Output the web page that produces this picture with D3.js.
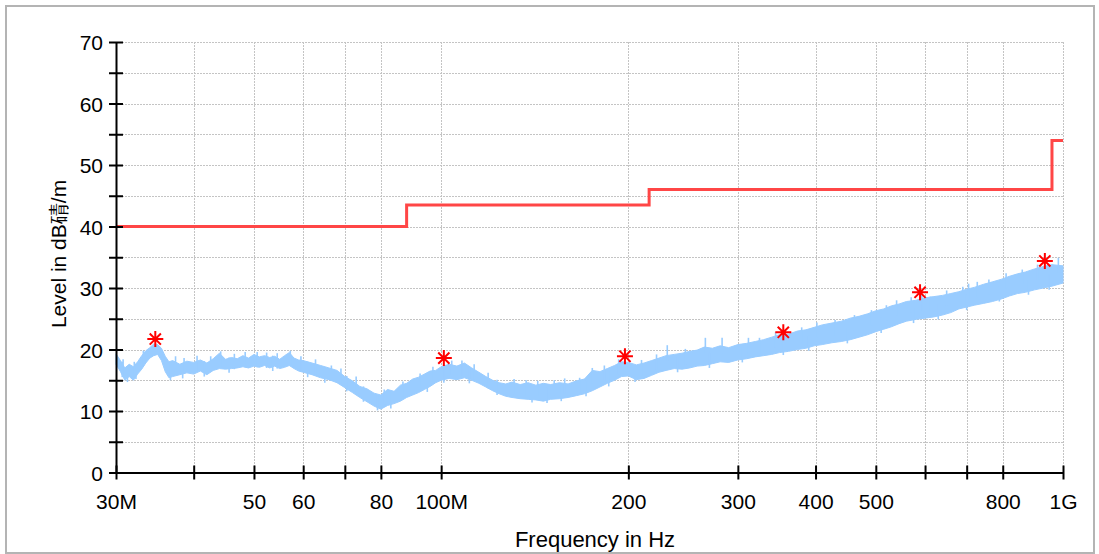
<!DOCTYPE html>
<html>
<head>
<meta charset="UTF-8">
<style>
html, body { margin:0; padding:0; background:#fff; }
svg { display:block; font-family: "Liberation Sans", Arial, sans-serif; }
.grid line { stroke:#c4c4c4; stroke-width:1; stroke-dasharray:2,1; shape-rendering:crispEdges; }
.axis path, .axis line { stroke:#000; stroke-width:2; }
.axis text { font-size:21px; fill:#000; font-family: "Liberation Sans", Arial, sans-serif; }
</style>
</head>
<body>
<svg width="1099" height="554"></svg>
<script src="https://d3js.org/d3.v7.min.js"></script>
<script>
// limit line (dB) per frequency band, MHz
var limitFreq = [30, 88, 88, 216, 216, 960, 960, 1000];
var limitLevel = [40, 40, 43.5, 43.5, 46, 46, 54, 54];

// measured peaks (stars)
var peakFreq = [34.7, 101, 197.5, 355, 589, 935];
var peakLevel = [21.7, 18.6, 18.9, 22.8, 29.3, 34.4];

var traceFreq = [30, 30.5, 31, 31.5, 32, 32.5, 33, 33.5, 34, 34.5, 35, 35.5, 36, 36.5, 37, 38, 39, 40, 41, 42,
  43, 44, 45, 46, 47, 48, 49, 50, 51, 52, 53, 54, 55, 56, 57, 58, 59, 60, 62, 64,
  66, 68, 70, 72, 74, 76, 78, 80, 82, 84, 86, 88, 90, 92, 94, 96, 98, 100, 103, 106,
  109, 112, 115, 118, 121, 124, 127, 130, 134, 138, 142, 146, 150, 155, 160, 165, 170, 175, 180, 185,
  190, 195, 200, 206, 212, 218, 224, 230, 237, 244, 251, 258, 265, 273, 281, 290, 300, 310, 320, 330,
  340, 350, 362, 374, 386, 398, 410, 425, 440, 455, 470, 485, 500, 515, 530, 545, 560, 580, 600, 620,
  640, 660, 680, 700, 720, 745, 770, 795, 820, 845, 870, 900, 930, 960, 1000];
var traceHi = [19.3, 18.2, 17.0, 17.6, 17.2, 18.0, 19.0, 19.8, 20.3, 20.9, 20.8, 20.2, 18.9, 18.0, 18.2, 17.6, 18.1, 17.9, 18.3, 17.8,
  18.5, 19.4, 18.4, 18.7, 18.5, 19.0, 18.6, 19.2, 18.8, 19.0, 18.7, 18.9, 18.4, 19.0, 19.5, 18.6, 18.3, 18.2, 17.8, 17.4,
  17.0, 16.6, 15.6, 14.9, 14.0, 13.6, 12.9, 12.6, 13.5, 13.2, 14.2, 14.5, 15.2, 15.5, 16.0, 16.5, 16.6, 17.2, 17.6, 17.3,
  17.8, 17.0, 16.3, 15.6, 15.0, 14.6, 14.4, 14.7, 14.3, 14.6, 14.2, 14.5, 14.3, 14.6, 14.4, 14.9, 15.2, 16.6, 16.4, 16.9,
  17.4, 18.0, 17.9, 17.5, 17.8, 18.2, 18.6, 19.0, 19.2, 19.4, 19.7, 19.9, 20.4, 20.2, 20.6, 20.3, 20.8, 21.0, 21.3, 21.6,
  22.0, 22.4, 22.5, 23.0, 23.2, 23.6, 24.0, 24.3, 24.6, 25.1, 25.4, 25.8, 26.3, 26.6, 27.1, 27.4, 27.8, 28.0, 28.4, 28.6,
  28.8, 29.1, 29.4, 29.8, 30.1, 30.6, 31.0, 31.4, 31.9, 32.3, 32.6, 33.1, 33.5, 33.8, 33.6];
var traceLo = [17.6, 16.4, 15.0, 15.6, 15.0, 16.0, 16.8, 17.8, 18.6, 19.0, 19.2, 18.2, 16.4, 15.4, 15.6, 15.9, 16.2, 16.0, 16.5, 15.9,
  16.6, 16.9, 16.8, 16.9, 17.0, 17.2, 17.0, 17.3, 17.1, 17.4, 17.0, 17.3, 16.9, 17.1, 17.4, 16.9, 16.5, 16.3, 15.9, 15.4,
  15.1, 14.6, 13.8, 13.0, 12.2, 11.5, 10.8, 10.3, 10.9, 11.2, 11.6, 12.2, 12.6, 13.0, 13.5, 14.0, 14.6, 15.0, 15.3, 15.1,
  15.4, 15.0, 14.5, 13.9, 13.3, 12.8, 12.4, 12.2, 12.0, 11.9, 11.8, 11.6, 11.9, 12.0, 12.2, 12.5, 12.8, 13.3, 13.9, 14.5,
  15.0, 15.6, 15.7, 15.1, 15.3, 15.8, 16.3, 16.6, 16.9, 16.8, 17.0, 17.3, 17.4, 17.7, 18.0, 17.9, 18.3, 18.5, 18.8, 19.0,
  19.2, 19.5, 19.7, 20.0, 20.2, 20.6, 20.8, 21.1, 21.3, 21.6, 22.0, 22.4, 22.9, 23.3, 23.7, 24.2, 24.6, 24.9, 25.1, 25.3,
  25.6, 26.0, 26.6, 26.9, 27.2, 27.5, 27.8, 28.2, 28.7, 29.1, 29.3, 29.7, 30.0, 30.3, 30.8];

// narrow spikes sticking up out of the trace
var upFreq = [30.8, 32.1, 33.2, 37.4, 38.6, 40.5, 42.6, 44.2, 46.5, 48.4, 50.6, 52.4, 54.5, 57.2, 59.5, 62.8, 66.6, 69, 73, 81,
  86.8, 92.5, 97, 104, 108, 113, 119, 131, 137, 143, 152, 158, 167, 175, 183, 193, 210, 222, 231, 247,
  266, 283, 312, 325, 345, 380, 402, 430, 462, 492, 520, 540, 570, 593, 612, 650, 690, 705, 728, 760,
  810, 860, 910, 983];
var upLevel = [18.4, 18.0, 19.8, 18.9, 18.6, 19.0, 18.9, 19.7, 19.3, 19.6, 19.6, 19.5, 19.4, 19.8, 18.9, 18.4, 17.4, 16.9, 15.6, 13.5,
  14.8, 16.1, 17.2, 18.2, 18.2, 17.6, 16.2, 15.2, 15.0, 14.9, 15.0, 15.3, 15.4, 17.0, 17.4, 18.4, 18.3, 19.2, 20.7, 20.1,
  21.9, 21.9, 21.9, 21.9, 22.8, 23.6, 24.4, 24.8, 25.6, 26.4, 27.2, 28.0, 28.5, 28.9, 28.6, 29.6, 30.2, 30.7, 31.0, 31.4,
  32.4, 33.0, 33.8, 34.9];

// narrow dips below the trace
var downFreq = [30.7, 31.3, 32.3, 36.7, 38.4, 41.6, 45.6, 53.6, 61, 65, 70.5, 75, 79, 83, 95, 101, 111, 123, 140, 148,
  156, 171, 186, 205, 240, 270, 305, 355, 390, 450, 510, 575, 630, 700, 790, 880, 950];
var downLevel = [15.5, 14.7, 15.2, 15.0, 15.3, 15.6, 16.2, 16.5, 15.5, 14.6, 13.2, 11.5, 10.1, 10.4, 13.1, 14.6, 14.5, 12.6, 11.4, 11.3,
  11.6, 12.4, 14.0, 14.7, 16.3, 17.0, 17.9, 19.1, 19.8, 21.0, 22.7, 24.3, 24.9, 26.4, 27.8, 28.9, 29.7];

var xTicks = [30, 40, 50, 60, 70, 80, 100, 200, 300, 400, 500, 600, 700, 800, 1000];
var xTickLabels = {30: "30M", 50: "50", 60: "60", 80: "80", 100: "100M", 200: "200", 300: "300", 400: "400", 500: "500", 800: "800", 1000: "1G"};
var yTicks = [0, 5, 10, 15, 20, 25, 30, 35, 40, 45, 50, 55, 60, 65, 70];

var svg = d3.select("svg");

var x = d3.scaleLog().domain([30, 1000]).range([116, 1063]);
var y = d3.scaleLinear().domain([0, 70]).range([472.5, 42]);

// grid
var grid = svg.append("g").attr("class", "grid");
grid.selectAll("line.h").data(yTicks.slice(1)).enter().append("line")
  .attr("x1", x(30)).attr("x2", x(1000))
  .attr("y1", function(d) { return Math.round(y(d)) + 0.5; })
  .attr("y2", function(d) { return Math.round(y(d)) + 0.5; });
grid.selectAll("line.v").data(xTicks.slice(1)).enter().append("line")
  .attr("y1", y(70)).attr("y2", y(0))
  .attr("x1", function(d) { return Math.round(x(d)) + 0.5; })
  .attr("x2", function(d) { return Math.round(x(d)) + 0.5; });

// trace
var traceColor = "#99ccff";
var trace = traceFreq.map(function(f, i) { return {f: f, hi: traceHi[i], lo: traceLo[i]}; });
var area = d3.area()
  .x(function(d) { return x(d.f); })
  .y0(function(d) { return y(d.lo); })
  .y1(function(d) { return y(d.hi); });
svg.append("path").datum(trace)
  .attr("d", area)
  .attr("fill", traceColor)
  .attr("stroke", traceColor)
  .attr("stroke-width", 1);

var spikes = svg.append("g").attr("stroke", traceColor).attr("stroke-width", 1.6);
spikes.selectAll("line.up").data(upFreq).enter().append("line")
  .attr("x1", function(d) { return x(d); })
  .attr("x2", function(d) { return x(d); })
  .attr("y1", function(d, i) { return y(upLevel[i]); })
  .attr("y2", function(d, i) { return y(upLevel[i] - 2.5); });
spikes.selectAll("line.down").data(downFreq).enter().append("line")
  .attr("x1", function(d) { return x(d); })
  .attr("x2", function(d) { return x(d); })
  .attr("y1", function(d, i) { return y(downLevel[i]); })
  .attr("y2", function(d, i) { return y(downLevel[i] + 2.5); });

// limit
var lim = limitFreq.map(function(f, i) { return [f, limitLevel[i]]; });
svg.append("path").datum(lim)
  .attr("d", d3.line().x(function(d) { return x(d[0]); }).y(function(d) { return y(d[1]); }))
  .attr("fill", "none")
  .attr("stroke", "#ff4646")
  .attr("stroke-width", 3);

// peak markers
var star = svg.append("g").selectAll("g").data(peakFreq).enter().append("g")
  .attr("transform", function(d, i) { return "translate(" + x(d) + "," + y(peakLevel[i]) + ")"; });
star.append("path")
  .attr("d", "M0,-8V8M-8,0H8M-5.6,-5.6L5.6,5.6M-5.6,5.6L5.6,-5.6")
  .attr("stroke", "#ff0000")
  .attr("stroke-width", 2)
  .attr("fill", "none");

// axes
var yAxis = svg.append("g").attr("class", "axis")
  .attr("transform", "translate(" + x(30) + ",0)")
  .call(d3.axisLeft(y).tickValues(yTicks).tickSize(7).tickSizeOuter(0).tickPadding(6)
    .tickFormat(function(d) { return d % 10 === 0 ? d : ""; }));
yAxis.selectAll(".tick line").attr("x1", -7).attr("x2", 7);
yAxis.selectAll(".tick text").attr("dy", "0.36em");

var xAxis = svg.append("g").attr("class", "axis")
  .attr("transform", "translate(0," + y(0) + ")")
  .call(d3.axisBottom(x).tickValues(xTicks).tickSize(7).tickSizeOuter(0)
    .tickFormat(function(d) { return xTickLabels[d] || ""; }));
xAxis.selectAll(".tick line").attr("y1", -7).attr("y2", 7);
xAxis.selectAll(".tick text").attr("y", 36).attr("dy", 0);
svg.selectAll(".axis path.domain").attr("stroke-width", 2);

// titles
svg.append("text")
  .attr("transform", "translate(66,254) rotate(-90)")
  .attr("text-anchor", "middle")
  .attr("font-size", 21)
  .text("Level in dB碃/m");

svg.append("text")
  .attr("x", 595).attr("y", 547)
  .attr("text-anchor", "middle")
  .attr("font-size", 22)
  .text("Frequency in Hz");

// outer frame
svg.append("rect")
  .attr("x", 6).attr("y", 6).attr("width", 1088).attr("height", 547)
  .attr("fill", "none").attr("stroke", "#b4b4b4").attr("stroke-width", 2);
</script>
</body>
</html>
